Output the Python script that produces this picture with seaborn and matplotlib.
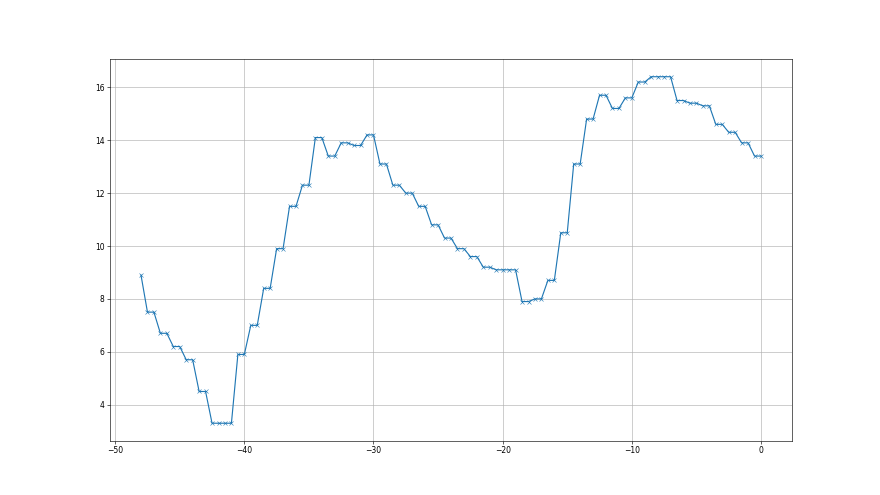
import matplotlib
matplotlib.use("Agg")
import matplotlib.pyplot as plt
import seaborn as sns
import numpy as np
import pandas as pd

hours = [-48.0 + 0.5 * i for i in range(97)]
values = [
    8.9,
    7.5, 7.5, 6.7, 6.7, 6.2, 6.2, 5.7, 5.7, 4.5, 4.5,
    3.3, 3.3, 3.3, 3.3,
    5.9, 5.9, 7.0, 7.0, 8.4, 8.4, 9.9, 9.9, 11.5, 11.5,
    12.3, 12.3, 14.1, 14.1, 13.4, 13.4, 13.9, 13.9, 13.8, 13.8,
    14.2, 14.2, 13.1, 13.1, 12.3, 12.3, 12.0, 12.0, 11.5, 11.5,
    10.8, 10.8, 10.3, 10.3, 9.9, 9.9, 9.6, 9.6, 9.2, 9.2,
    9.1, 9.1, 9.1, 9.1,
    7.9, 7.9, 8.0, 8.0, 8.7, 8.7, 10.5, 10.5, 13.1, 13.1,
    14.8, 14.8, 15.7, 15.7, 15.2, 15.2, 15.6, 15.6, 16.2, 16.2,
    16.4, 16.4, 16.4, 16.4,
    15.5, 15.5, 15.4, 15.4, 15.3, 15.3, 14.6, 14.6, 14.3, 14.3,
    13.9, 13.9, 13.4, 13.4,
]

df = pd.DataFrame({"hour": hours, "value": values})

fig, ax = plt.subplots(figsize=(16, 9), dpi=55)
sns.lineplot(data=df, x="hour", y="value", marker="x", color="#1f77b4",
             markeredgecolor="#1f77b4", ax=ax)
ax.grid(True)
ax.set_xlabel("")
ax.set_ylabel("")
fig.savefig("out.png", dpi=55)
